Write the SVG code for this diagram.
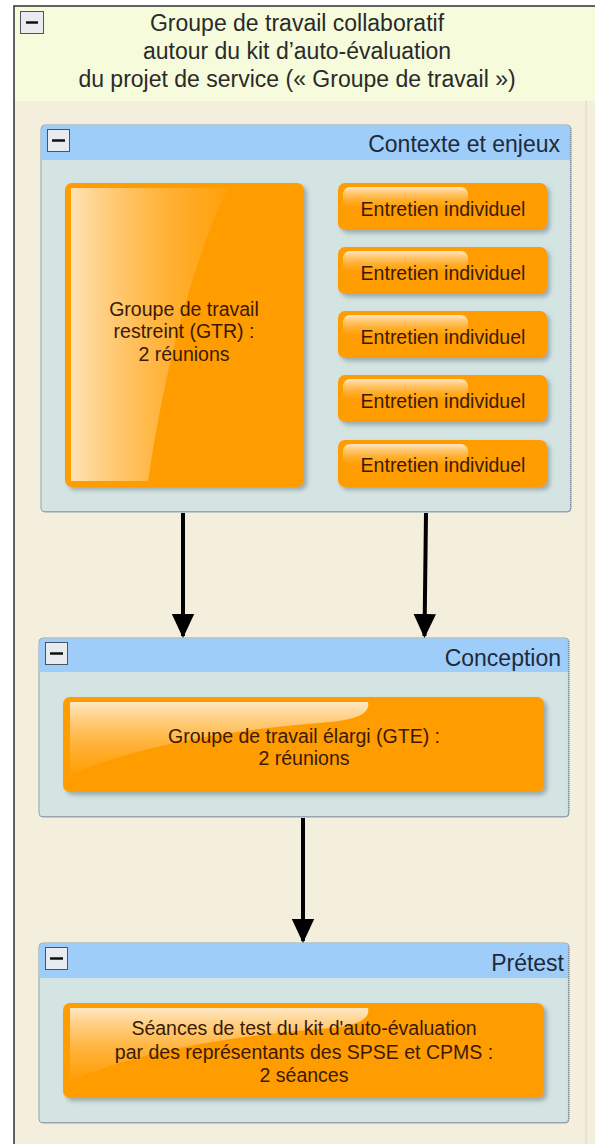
<svg xmlns="http://www.w3.org/2000/svg" width="595" height="1144" viewBox="0 0 595 1144">
<defs>
<style>
.title{font-family:"Liberation Sans",Arial,sans-serif;font-size:23px;fill:#2a2a2a;text-anchor:middle}
.hdr{font-family:"Liberation Sans",Arial,sans-serif;font-size:23px;fill:#1e2a3a;text-anchor:end}
.nt{font-family:"Liberation Sans",Arial,sans-serif;font-size:19.5px;fill:#3a1a05;text-anchor:middle}
.grp{fill:#d4e4e2;stroke:#8fa3b8;stroke-width:1}
.dot{fill:none;stroke:#7f8a96;stroke-width:1.2;stroke-dasharray:1 1}
.head{fill:#9fcdfa}
.box{fill:#ff9c00;filter:url(#sh)}
.btn{fill:#e8ecf0;stroke:#4a5560;stroke-width:1}
.btnm{stroke:#111;stroke-width:2.5}
.conn{stroke:#000;stroke-width:4;fill:none;marker-end:url(#ah)}
</style>
<filter id="sh" x="-10%" y="-10%" width="125%" height="130%">
<feDropShadow dx="3" dy="3" stdDeviation="2" flood-color="#6a7a80" flood-opacity="0.55"/>
</filter>
<marker id="ah" markerWidth="6" markerHeight="6" refX="5.5" refY="3" orient="auto" markerUnits="strokeWidth">
<path d="M0,0.2 L6,3 L0,5.8 Z" fill="#000"/>
</marker>
<linearGradient id="gl" x1="0" y1="0" x2="0" y2="1">
<stop offset="0" stop-color="#fff0d8" stop-opacity="0.9"/>
<stop offset="1" stop-color="#ffb030" stop-opacity="0.2"/>
</linearGradient>
<linearGradient id="glh" x1="0" y1="0" x2="1" y2="0">
<stop offset="0" stop-color="#ffe6bf" stop-opacity="0.95"/>
<stop offset="1" stop-color="#ffae2a" stop-opacity="0.3"/>
</linearGradient>
</defs>

<!-- outer frame -->
<rect x="14" y="6" width="600" height="1150" fill="#f3efdc"/>
<rect x="14" y="6" width="600" height="95" fill="#f5fbdb"/>
<line x1="586" y1="101" x2="586" y2="1144" stroke="#ddd8c4" stroke-width="1"/>
<path d="M14,1144 V6 H595" fill="none" stroke="#303030" stroke-width="1.5"/>

<g id="main-title">
<rect class="btn" x="20.5" y="11.5" width="23" height="22"/>
<line class="btnm" x1="26" y1="22.5" x2="38" y2="22.5"/>
<text class="title" x="297" y="31">Groupe de travail collaboratif</text>
<text class="title" x="297" y="58.5">autour du kit d’auto-évaluation</text>
<text class="title" x="297" y="87">du projet de service (« Groupe de travail »)</text>
</g>

<g id="grp-contexte">
<rect class="grp" x="41" y="125" width="530" height="387" rx="4"/>
<path class="head" d="M45,125.5 H567 A3.5,3.5 0 0 1 570.5,129 V160 H41.5 V129 A3.5,3.5 0 0 1 45,125.5 Z"/>
<path class="dot" d="M570.5,128 V508 Q570.5,511.5 567,511.5 H44"/>
<rect class="btn" x="47.5" y="129.5" width="22" height="22"/>
<line class="btnm" x1="52" y1="140.5" x2="65" y2="140.5"/>
<text class="hdr" x="560" y="152">Contexte et enjeux</text>
</g>

<g id="node-gtr">
<rect class="box" x="65" y="183" width="239" height="304" rx="7"/>
<path d="M71,188 H228 Q175,300 148,481 H71 Z" fill="url(#glh)"/>
<text class="nt" x="184" y="316">Groupe de travail</text>
<text class="nt" x="184" y="338">restreint (GTR) :</text>
<text class="nt" x="184" y="361">2 réunions</text>
</g>

<g id="node-ei1">
<rect class="box" x="338" y="183" width="209" height="47" rx="7"/>
<rect x="343" y="187" width="125" height="20" rx="7" fill="url(#gl)"/>
<text class="nt" x="443" y="216">Entretien individuel</text>
</g>
<g id="node-ei2">
<rect class="box" x="338" y="247" width="209" height="47" rx="7"/>
<rect x="343" y="251" width="125" height="20" rx="7" fill="url(#gl)"/>
<text class="nt" x="443" y="280">Entretien individuel</text>
</g>
<g id="node-ei3">
<rect class="box" x="338" y="311" width="209" height="47" rx="7"/>
<rect x="343" y="315" width="125" height="20" rx="7" fill="url(#gl)"/>
<text class="nt" x="443" y="344">Entretien individuel</text>
</g>
<g id="node-ei4">
<rect class="box" x="338" y="375" width="209" height="47" rx="7"/>
<rect x="343" y="379" width="125" height="20" rx="7" fill="url(#gl)"/>
<text class="nt" x="443" y="408">Entretien individuel</text>
</g>
<g id="node-ei5">
<rect class="box" x="338" y="440" width="209" height="47" rx="7"/>
<rect x="343" y="444" width="125" height="20" rx="7" fill="url(#gl)"/>
<text class="nt" x="443" y="472">Entretien individuel</text>
</g>

<g id="grp-conception">
<rect class="grp" x="39" y="638" width="530" height="179" rx="4"/>
<path class="head" d="M43,638.5 H565 A3.5,3.5 0 0 1 568.5,642 V672 H39.5 V642 A3.5,3.5 0 0 1 43,638.5 Z"/>
<path class="dot" d="M568.5,641 V813 Q568.5,816.5 565,816.5 H42"/>
<rect class="btn" x="45.5" y="642.5" width="22" height="22"/>
<line class="btnm" x1="50" y1="653.5" x2="63" y2="653.5"/>
<text class="hdr" x="561" y="666">Conception</text>
</g>

<g id="node-gte">
<rect class="box" x="63" y="697" width="481" height="95" rx="7"/>
<path d="M70,702 H368 Q372,718 330,722 Q160,735 70,775 Z" fill="url(#gl)"/>
<text class="nt" x="304" y="743">Groupe de travail élargi (GTE) :</text>
<text class="nt" x="304" y="765">2 réunions</text>
</g>

<g id="grp-pretest">
<rect class="grp" x="39" y="943" width="530" height="180" rx="4"/>
<path class="head" d="M43,943.5 H565 A3.5,3.5 0 0 1 568.5,947 V978 H39.5 V947 A3.5,3.5 0 0 1 43,943.5 Z"/>
<path class="dot" d="M568.5,946 V1119 Q568.5,1122.5 565,1122.5 H42"/>
<rect class="btn" x="45.5" y="947.5" width="22" height="22"/>
<line class="btnm" x1="50" y1="958.5" x2="63" y2="958.5"/>
<text class="hdr" x="564" y="971">Prétest</text>
</g>

<g id="node-test">
<rect class="box" x="63" y="1003" width="481" height="95" rx="7"/>
<path d="M70,1008 H368 Q372,1024 330,1028 Q160,1041 70,1081 Z" fill="url(#gl)"/>
<text class="nt" x="304" y="1035">Séances de test du kit d'auto-évaluation</text>
<text class="nt" x="304" y="1059">par des représentants des SPSE et CPMS :</text>
<text class="nt" x="304" y="1082">2 séances</text>
</g>

<g id="connectors">
<path class="conn" d="M183,513 V636"/>
<path class="conn" d="M426,513 L424.5,636"/>
<path class="conn" d="M303,818 V941"/>
</g>
</svg>
